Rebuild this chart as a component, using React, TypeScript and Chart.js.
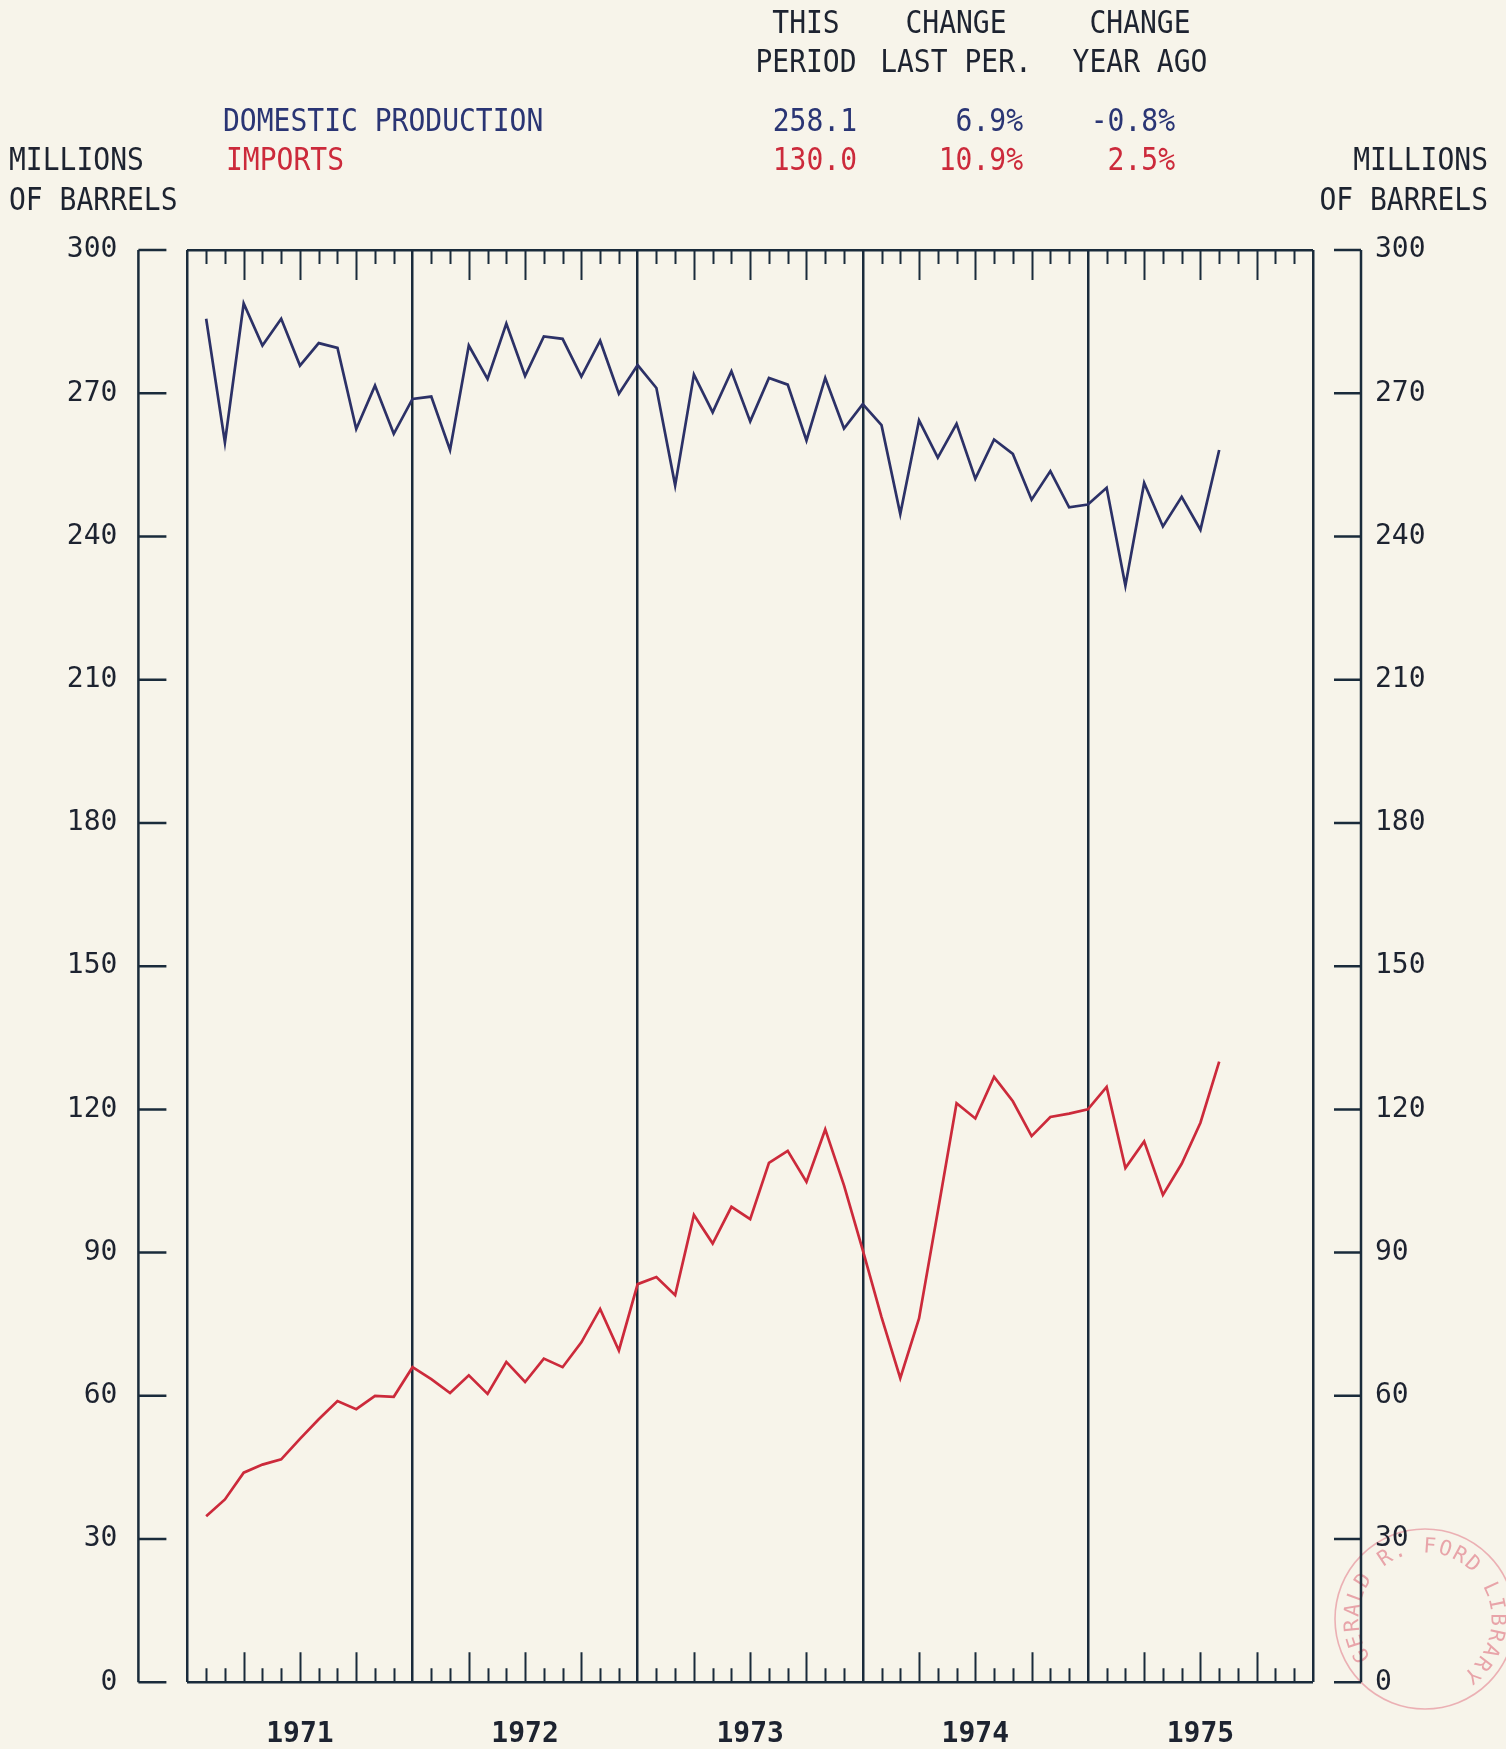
import React, { useEffect, useRef } from 'react';
import { Chart, registerables } from 'chart.js';

Chart.register(...registerables);

// ---------- data ----------
const years = ['1971', '1972', '1973', '1974', '1975'];

// monthly, Jan 1971 .. Jul 1975 (millions of barrels)
const domesticProduction = [
  285.6, 259.7, 288.8, 280.0, 285.6, 275.8, 280.5, 279.5, 262.5, 271.6, 261.5, 268.8,
  269.3, 258.1, 280.0, 273.0, 284.6, 273.6, 281.9, 281.4, 273.5, 281.0, 269.9, 275.9,
  271.1, 250.7, 273.9, 266.0, 274.6, 264.1, 273.2, 271.8, 260.1, 273.2, 262.6, 267.7,
  263.3, 244.7, 264.3, 256.5, 263.6, 252.1, 260.3, 257.3, 247.7, 253.7, 246.1, 246.7,
  250.2, 229.7, 251.2, 242.1, 248.3, 241.4, 258.1,
];

const imports = [
  34.8, 38.3, 43.9, 45.6, 46.7, 51.0, 55.1, 58.9, 57.2, 60.0, 59.8, 66.0,
  63.5, 60.6, 64.3, 60.4, 67.1, 62.9, 67.8, 66.0, 71.2, 78.2, 69.5, 83.4,
  84.9, 81.1, 97.9, 91.9, 99.6, 97.0, 108.8, 111.3, 104.8, 115.8, 104.1, 90.5,
  76.5, 63.7, 76.2, 98.6, 121.3, 118.1, 126.8, 121.7, 114.4, 118.4, 119.1, 120.0,
  124.7, 107.7, 113.3, 102.1, 108.6, 117.2, 130.0,
];

const xTickValues = [0, 6, 12, 18, 24, 30, 36, 42, 48, 54, 60];
const yTickValues = [0, 30, 60, 90, 120, 150, 180, 210, 240, 270, 300];

const seriesNames = ['DOMESTIC PRODUCTION', 'IMPORTS'];
const thisPeriod = ['258.1', '130.0'];
const changeLastPeriod = ['6.9%', '10.9%'];
const changeYearAgo = ['-0.8%', '2.5%'];
const columnHeads = [
  ['THIS', 'PERIOD'],
  ['CHANGE', 'LAST PER.'],
  ['CHANGE', 'YEAR AGO'],
];
const axisTitle = ['MILLIONS', 'OF BARRELS'];
const stampText = 'GERALD R. FORD LIBRARY';

// ---------- styles ----------
const W = 1506;
const H = 1749;
const BG = '#f7f4ea';
const INK = '#1d2330';
const FRAME = '#1a2b3b';
const BLUE = '#2c3167';
const RED = '#cc2a3b';
const BLUE_TXT = '#2a3574';
const CLEAR = 'rgba(0,0,0,0)';
const FONT = '"DejaVu Sans Mono", "Liberation Mono", monospace';

const decorPlugin = {
  id: 'decor',
  beforeDraw(chart: any) {
    const ctx = chart.ctx;
    // faint library stamp
    const cx = 1425, cy = 1619, r = 90;
    ctx.save();
    ctx.strokeStyle = 'rgba(226, 120, 135, 0.55)';
    ctx.fillStyle = 'rgba(222, 110, 125, 0.6)';
    ctx.lineWidth = 1.6;
    ctx.beginPath();
    ctx.arc(cx, cy, r, 0, Math.PI * 2);
    ctx.stroke();
    ctx.font = `21px ${FONT}`;
    ctx.textAlign = 'center';
    ctx.textBaseline = 'middle';
    const start = (150 * Math.PI) / 180;
    const end = (410 * Math.PI) / 180;
    const n = stampText.length;
    for (let i = 0; i < n; i++) {
      const a = start + ((end - start) * i) / (n - 1);
      ctx.save();
      ctx.translate(cx + Math.cos(a) * 72, cy + Math.sin(a) * 72);
      ctx.rotate(a + Math.PI / 2);
      ctx.fillText(stampText[i], 0, 0);
      ctx.restore();
    }
    ctx.restore();
  },
  afterDraw(chart: any) {
    const { ctx, chartArea: a, scales } = chart;
    const xs = scales.x;
    const ys = scales.y;
    ctx.save();
    ctx.strokeStyle = FRAME;
    ctx.lineCap = 'butt';
    // month ticks inside the box, top and bottom
    ctx.lineWidth = 2;
    for (let m = 1; m < 60; m++) {
      if (m % 12 === 0) continue;
      const px = Math.round(xs.getPixelForValue(m)) + 0.5;
      const len = m % 3 === 0 ? 30 : 14;
      ctx.beginPath();
      ctx.moveTo(px, a.top);
      ctx.lineTo(px, a.top + len);
      ctx.moveTo(px, a.bottom);
      ctx.lineTo(px, a.bottom - len);
      ctx.stroke();
    }
    // outer value axes
    ctx.lineWidth = 2.5;
    const lx = a.left - 49;
    const rx = a.right + 48;
    const yTop = ys.getPixelForValue(300);
    const yBot = ys.getPixelForValue(0);
    ctx.beginPath();
    ctx.moveTo(lx, yTop);
    ctx.lineTo(lx, yBot);
    ctx.moveTo(rx, yTop);
    ctx.lineTo(rx, yBot);
    ctx.stroke();
    yTickValues.forEach((v) => {
      const py = ys.getPixelForValue(v);
      ctx.beginPath();
      ctx.moveTo(lx, py);
      ctx.lineTo(lx + 28, py);
      ctx.moveTo(rx, py);
      ctx.lineTo(rx - 27, py);
      ctx.stroke();
    });
    ctx.restore();
  },
};

type TxtProps = { text: string; x: number; y: number; align: 'left' | 'right' | 'center'; color: string };
function Txt({ text, x, y, align, color }: TxtProps) {
  const style: any = {
    position: 'absolute',
    top: y - 14,
    whiteSpace: 'pre',
    fontFamily: FONT,
    fontSize: 28,
    lineHeight: '28px',
    color,
    transformOrigin: 'center center',
  };
  if (align === 'left') {
    style.left = x;
    style.transform = 'scaleY(1.15)';
  } else if (align === 'right') {
    style.right = W - x;
    style.transform = 'scaleY(1.15)';
  } else {
    style.left = x;
    style.transform = 'translateX(-50%) scaleY(1.15)';
  }
  return <div style={style}>{text}</div>;
}

export default function App() {
  const canvasRef = useRef<HTMLCanvasElement | null>(null);

  useEffect(() => {
    const canvas = canvasRef.current;
    if (!canvas) return;
    const chart = new Chart(canvas, {
      type: 'line',
      data: {
        datasets: [
          {
            label: seriesNames[0],
            data: domesticProduction.map((v, i) => ({ x: i + 1, y: v })),
            borderColor: BLUE,
            borderWidth: 2.7,
            pointRadius: 0,
            tension: 0,
            yAxisID: 'y',
          },
          {
            label: seriesNames[1],
            data: imports.map((v, i) => ({ x: i + 1, y: v })),
            borderColor: RED,
            borderWidth: 2.7,
            pointRadius: 0,
            tension: 0,
            yAxisID: 'y',
          },
        ],
      },
      options: {
        responsive: false,
        animation: false,
        devicePixelRatio: 1,
        layout: { padding: { top: 250, left: 0, right: 0, bottom: 0 } },
        plugins: {
          legend: { display: false },
          tooltip: { enabled: false },
          title: { display: false },
        },
        scales: {
          x: {
            type: 'linear',
            min: 0,
            max: 60,
            afterBuildTicks: (scale: any) => {
              scale.ticks = xTickValues.map((v) => ({ value: v }));
            },
            afterFit: (scale: any) => {
              scale.height = H - 1682.3;
            },
            border: { display: false },
            grid: {
              drawTicks: true,
              tickLength: 36,
              tickColor: CLEAR,
              lineWidth: 2.5,
              color: (c: any) => (c.tick && c.tick.value % 12 === 0 ? FRAME : CLEAR),
            },
            ticks: {
              autoSkip: false,
              maxRotation: 0,
              padding: 0,
              color: INK,
              font: { family: FONT, size: 28, weight: 'bold' },
              callback: (v: any) => {
                const n = Number(v);
                return n % 12 === 6 ? years[(n - 6) / 12] : '';
              },
            },
          },
          y: {
            type: 'linear',
            position: 'left',
            min: 0,
            max: 300,
            afterBuildTicks: (scale: any) => {
              scale.ticks = yTickValues.map((v) => ({ value: v }));
            },
            afterFit: (scale: any) => {
              scale.width = 187.4;
            },
            border: { display: false },
            grid: {
              drawTicks: true,
              tickLength: 70,
              tickColor: CLEAR,
              lineWidth: 2.5,
              color: (c: any) =>
                c.tick && (c.tick.value === 0 || c.tick.value === 300) ? FRAME : CLEAR,
            },
            ticks: {
              padding: 0,
              color: INK,
              font: { family: FONT, size: 28 },
            },
          },
          y2: {
            type: 'linear',
            position: 'right',
            min: 0,
            max: 300,
            afterBuildTicks: (scale: any) => {
              scale.ticks = yTickValues.map((v) => ({ value: v }));
            },
            afterFit: (scale: any) => {
              scale.width = W - 1313;
            },
            border: { display: false },
            grid: {
              drawOnChartArea: false,
              drawTicks: true,
              tickLength: 62,
              tickColor: CLEAR,
              color: CLEAR,
            },
            ticks: {
              padding: 0,
              color: INK,
              font: { family: FONT, size: 28 },
            },
          },
        },
      },
      plugins: [decorPlugin],
    } as any);
    return () => chart.destroy();
  }, []);

  const rowY = [121, 160];
  const rowColor = [BLUE_TXT, RED];
  const headX = [806, 956, 1140];

  return (
    <div
      style={{
        position: 'absolute',
        left: 0,
        top: 0,
        width: W,
        height: H,
        background: BG,
        overflow: 'hidden',
      }}
    >
      <canvas
        ref={canvasRef}
        width={W}
        height={H}
        style={{ position: 'absolute', left: 0, top: 0, width: W, height: H }}
      />
      {columnHeads.map((h, i) => (
        <React.Fragment key={'h' + i}>
          <Txt text={h[0]} x={headX[i]} y={23} align="center" color={INK} />
          <Txt text={h[1]} x={headX[i]} y={62} align="center" color={INK} />
        </React.Fragment>
      ))}
      {seriesNames.map((s, i) => (
        <React.Fragment key={'s' + i}>
          <Txt text={s} x={i === 0 ? 223 : 226} y={rowY[i]} align="left" color={rowColor[i]} />
          <Txt text={thisPeriod[i]} x={857} y={rowY[i]} align="right" color={rowColor[i]} />
          <Txt text={changeLastPeriod[i]} x={1023} y={rowY[i]} align="right" color={rowColor[i]} />
          <Txt text={changeYearAgo[i]} x={1175} y={rowY[i]} align="right" color={rowColor[i]} />
        </React.Fragment>
      ))}
      <Txt text={axisTitle[0]} x={9} y={160} align="left" color={INK} />
      <Txt text={axisTitle[1]} x={9} y={200} align="left" color={INK} />
      <Txt text={axisTitle[0]} x={1488} y={160} align="right" color={INK} />
      <Txt text={axisTitle[1]} x={1488} y={200} align="right" color={INK} />
    </div>
  );
}
